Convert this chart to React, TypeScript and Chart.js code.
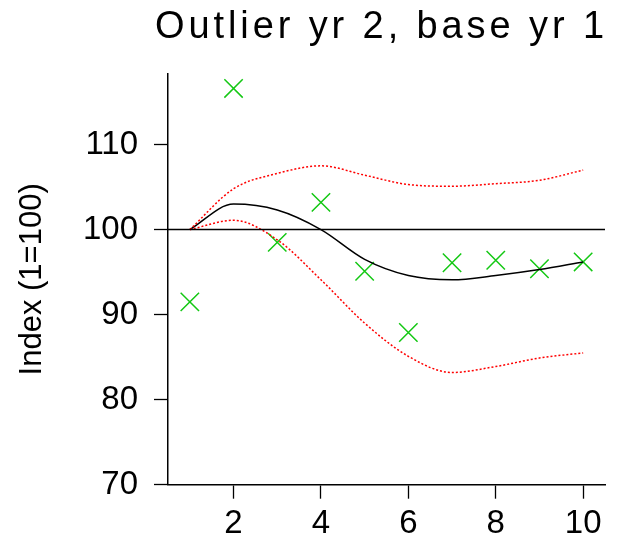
import React, { useEffect, useRef } from "react";
import { Chart, registerables } from "chart.js";

Chart.register(...registerables);

const TITLE = "Outlier yr 2, base yr 1";
const Y_TITLE = "Index (1=100)";
const YEARS = [1, 2, 3, 4, 5, 6, 7, 8, 9, 10];
const OBSERVED = [91.5, 116.6, 98.5, 103.2, 95.1, 87.9, 96.1, 96.4, 95.4, 96.2];
const FITTED = [100, 103.0, 102.3, 100.0, 96.5, 94.6, 94.1, 94.6, 95.3, 96.2];
const UPPER = [100, 104.8, 106.6, 107.5, 106.4, 105.3, 105.1, 105.4, 105.8, 107.0];
const LOWER = [100, 101.1, 98.8, 94.1, 89.0, 85.1, 83.2, 83.9, 84.9, 85.5];
const BASE_LINE = [100, 100];
const X_RANGE = [0.5, 10.5];
const Y_RANGE = [70, 118.3];
const X_TICKS = [2, 4, 6, 8, 10];
const Y_TICKS = [70, 80, 90, 100, 110];

const FONT = "'Liberation Sans', Arial, sans-serif";

const titlePlugin = {
  id: "customTitle",
  afterDraw(chart: any) {
    const ctx = chart.ctx;
    ctx.save();
    ctx.font = `38px ${FONT}`;
    ctx.fillStyle = "#000";
    ctx.textAlign = "left";
    ctx.textBaseline = "alphabetic";
    try {
      (ctx as any).letterSpacing = "3.9px";
    } catch (e) {}
    ctx.fillText(TITLE, 155, 38);
    ctx.restore();
  },
};

export default function App() {
  const ref = useRef<HTMLCanvasElement | null>(null);

  useEffect(() => {
    if (!ref.current) return;
    const xy = (arr: number[]) => YEARS.map((x, i) => ({ x, y: arr[i] }));
    const chart = new Chart(ref.current, {
      type: "line",
      data: {
        datasets: [
          {
            data: X_RANGE.map((x, i) => ({ x, y: BASE_LINE[i] })),
            borderColor: "#000",
            borderWidth: 1.5,
            pointRadius: 0,
          },
          {
            data: xy(UPPER),
            borderColor: "#ff0000",
            borderWidth: 1.5,
            borderDash: [2, 2],
            pointRadius: 0,
            cubicInterpolationMode: "monotone",
          },
          {
            data: xy(LOWER),
            borderColor: "#ff0000",
            borderWidth: 1.5,
            borderDash: [2, 2],
            pointRadius: 0,
            cubicInterpolationMode: "monotone",
          },
          {
            data: xy(FITTED),
            borderColor: "#000",
            borderWidth: 1.5,
            pointRadius: 0,
            cubicInterpolationMode: "monotone",
          },
          {
            data: xy(OBSERVED),
            showLine: false,
            borderColor: "#14c814",
            backgroundColor: "#14c814",
            borderWidth: 1.5,
            pointStyle: "crossRot",
            pointRadius: 13,
          },
        ],
      } as any,
      options: {
        animation: false,
        responsive: true,
        maintainAspectRatio: false,
        layout: { padding: { top: 74, right: 23, left: 0, bottom: 0 } },
        plugins: {
          legend: { display: false },
          title: { display: false },
          tooltip: { enabled: false },
        },
        scales: {
          x: {
            type: "linear",
            min: X_RANGE[0],
            max: X_RANGE[1],
            afterBuildTicks: (s: any) => {
              s.ticks = X_TICKS.map((v) => ({ value: v }));
            },
            afterFit: (s: any) => {
              s.height = 541 - 484.7;
            },
            grid: {
              display: true,
              drawOnChartArea: false,
              drawTicks: true,
              tickLength: 14,
              tickColor: "#000",
              tickWidth: 1.3,
            },
            border: { display: true, color: "#000", width: 1.5 },
            ticks: {
              color: "#000",
              font: { family: FONT, size: 33 },
              padding: 5,
              maxRotation: 0,
            },
          },
          y: {
            type: "linear",
            min: Y_RANGE[0],
            max: Y_RANGE[1],
            afterBuildTicks: (s: any) => {
              s.ticks = Y_TICKS.map((v) => ({ value: v }));
            },
            afterFit: (s: any) => {
              s.width = 168;
            },
            grid: {
              display: true,
              drawOnChartArea: false,
              drawTicks: true,
              tickLength: 14,
              tickColor: "#000",
              tickWidth: 1.3,
            },
            border: { display: true, color: "#000", width: 1.5 },
            ticks: {
              color: "#000",
              font: { family: FONT, size: 33 },
              padding: 16,
            },
            title: {
              display: true,
              text: Y_TITLE,
              color: "#000",
              font: { family: FONT, size: 31, lineHeight: 1.2 },
              padding: { top: 14, bottom: 0 },
            },
          },
        },
      } as any,
      plugins: [titlePlugin],
    });
    return () => chart.destroy();
  }, []);

  return (
    <div style={{ position: "absolute", left: 0, top: 0, width: 628, height: 541 }}>
      <canvas ref={ref} />
    </div>
  );
}
